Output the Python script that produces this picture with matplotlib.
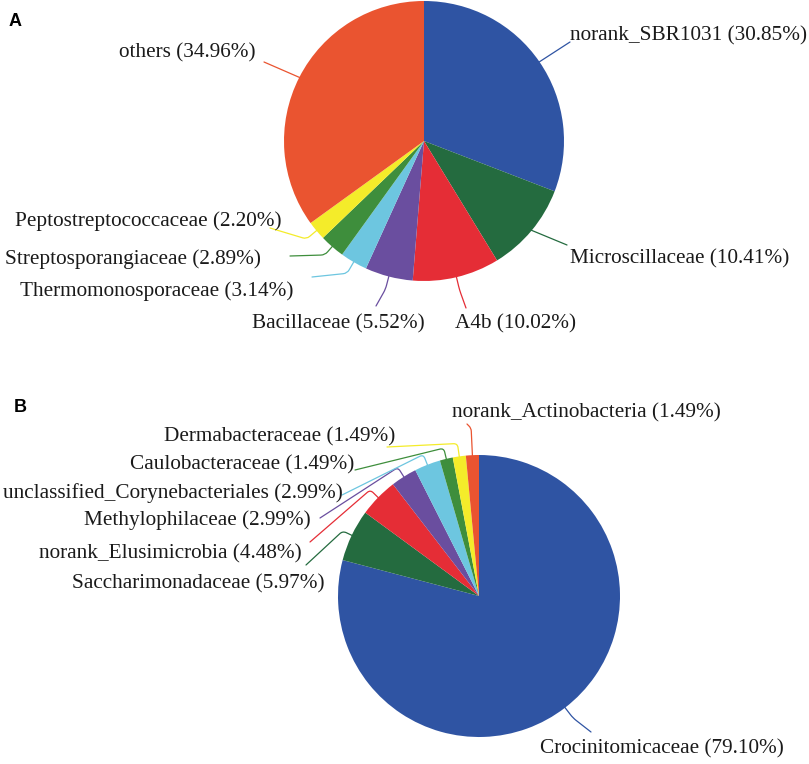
import numpy as np
import matplotlib.pyplot as plt
from matplotlib.path import Path
from matplotlib.patches import PathPatch

W, H = 809, 764

# panel A data
names_a = ['norank_SBR1031', 'Microscillaceae', 'A4b', 'Bacillaceae',
           'Thermomonosporaceae', 'Streptosporangiaceae',
           'Peptostreptococcaceae', 'others']
values_a = [30.85, 10.41, 10.02, 5.52, 3.14, 2.89, 2.20, 34.96]

# panel B data
names_b = ['Crocinitomicaceae', 'Saccharimonadaceae', 'norank_Elusimicrobia',
           'Methylophilaceae', 'unclassified_Corynebacteriales',
           'Caulobacteraceae', 'Dermabacteraceae', 'norank_Actinobacteria']
values_b = [79.10, 5.97, 4.48, 2.99, 2.99, 1.49, 1.49, 1.49]

colors = ['#2F54A3', '#246B3F', '#E52D36', '#6A4E9F',
          '#6DC6E0', '#3E8E3C', '#F4EC2A', '#EA5430']

# layout, pixels from top-left
center_a, radius_a = (424, 141), 140
center_b, radius_b = (479, 596), 141

text_a = [(570, 36, 'left'), (570, 259, 'left'), (455, 324, 'left'),
          (425, 324, 'right'), (293, 291, 'right'), (261, 259, 'right'),
          (282, 221, 'right'), (256, 53, 'right')]
elbow_a = [0, 0, 14, 14, 14, 12, 14, 0]
end_a = [(570, 42), (567, 245), (466, 308), (376, 306),
         (312, 277), (290, 256), (270, 228), (264, 62)]

text_b = [(540, 749, 'left'), (325, 584, 'right'), (302, 554, 'right'),
          (311, 520, 'right'), (343, 493, 'right'), (354, 465, 'right'),
          (395, 437, 'right'), (452, 413, 'left')]
elbow_b = [14, 11, 12, 12, 12, 12, 14, 28]
end_b = [(591, 732), (306, 565), (310, 542), (320, 518),
         (342, 495), (355, 470), (387, 447), (467, 424)]


def leader(p0, p1, p2, r=4.0):
    # polyline p0 -> p1 -> p2 with a rounded corner at p1
    p0, p1, p2 = map(np.asarray, (p0, p1, p2))
    d01 = np.linalg.norm(p1 - p0)
    d12 = np.linalg.norm(p2 - p1)
    if d01 < 1e-6:
        return Path([p0, p2], [Path.MOVETO, Path.LINETO])
    k = min(r, d01 / 2, d12 / 2)
    a = p1 + (p0 - p1) * k / d01
    b = p1 + (p2 - p1) * k / d12
    return Path([p0, a, p1, b, p2],
                [Path.MOVETO, Path.LINETO, Path.CURVE3, Path.CURVE3, Path.LINETO])


def draw_pie(ax, values, names, center, radius, texts, elbows, ends):
    cx, cy = center[0], H - center[1]
    wedges, _ = ax.pie(values, colors=colors, startangle=90, counterclock=False,
                       center=(cx, cy), radius=radius,
                       wedgeprops=dict(linewidth=0))
    for w, name, v, (tx, ty, ha), el, (ex, ey) in zip(wedges, names, values,
                                                      texts, elbows, ends):
        ang = np.deg2rad((w.theta1 + w.theta2) / 2)
        x0 = cx + (radius - 1) * np.cos(ang)
        y0 = cy + (radius - 1) * np.sin(ang)
        x1 = x0 + el * np.cos(ang)
        y1 = y0 + el * np.sin(ang)
        path = leader((x0, y0), (x1, y1), (ex, H - ey))
        ax.add_patch(PathPatch(path, fill=False, edgecolor=w.get_facecolor(),
                               lw=0.9, capstyle='round'))
        ax.text(tx, H - ty, f'{name} ({v:.2f}%)', ha=ha, va='center',
                fontsize=15.3, family='Liberation Serif', color='#1a1a1a')


fig = plt.figure(figsize=(W / 100, H / 100), dpi=100)
ax = fig.add_axes([0, 0, 1, 1])

draw_pie(ax, values_a, names_a, center_a, radius_a, text_a, elbow_a, end_a)
draw_pie(ax, values_b, names_b, center_b, radius_b, text_b, elbow_b, end_b)

ax.text(15.5, H - 22, 'A', fontsize=13, fontweight='bold',
        family='Liberation Sans', ha='center', va='center')
ax.text(20, H - 408, 'B', fontsize=13, fontweight='bold',
        family='Liberation Sans', ha='center', va='center')

ax.set_xlim(0, W)
ax.set_ylim(0, H)
ax.set_aspect('equal')
ax.axis('off')

fig.savefig('out.png', dpi=100)
